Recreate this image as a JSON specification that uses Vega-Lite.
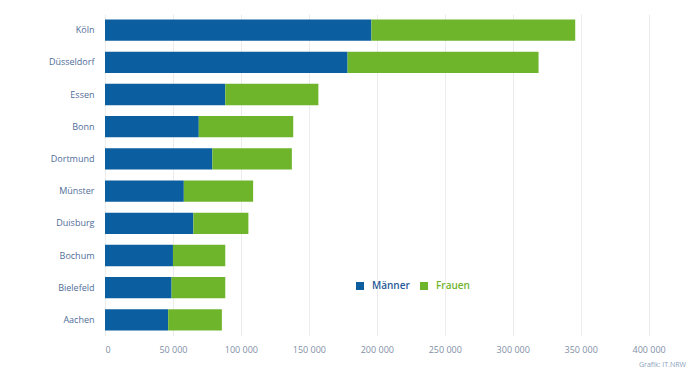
{
  "$schema": "https://vega.github.io/schema/vega-lite/v6.json",
  "autosize": "none",
  "padding": {"left": 105, "top": 14, "right": 0, "bottom": 36},
  "width": 581,
  "height": 322,
  "background": "white",
  "title": {
    "text": "Grafik: IT.NRW",
    "orient": "bottom",
    "anchor": "end",
    "fontSize": 7,
    "font": "Open Sans",
    "fontWeight": "normal",
    "color": "#8aa0bc",
    "offset": 7
  },
  "data": {
    "values": [
      {"stadt": "Köln", "geschlecht": "Männer", "anzahl": 196000},
      {"stadt": "Köln", "geschlecht": "Frauen", "anzahl": 150000},
      {"stadt": "Düsseldorf", "geschlecht": "Männer", "anzahl": 178500},
      {"stadt": "Düsseldorf", "geschlecht": "Frauen", "anzahl": 140500},
      {"stadt": "Essen", "geschlecht": "Männer", "anzahl": 88500},
      {"stadt": "Essen", "geschlecht": "Frauen", "anzahl": 68500},
      {"stadt": "Bonn", "geschlecht": "Männer", "anzahl": 69000},
      {"stadt": "Bonn", "geschlecht": "Frauen", "anzahl": 69500},
      {"stadt": "Dortmund", "geschlecht": "Männer", "anzahl": 79000},
      {"stadt": "Dortmund", "geschlecht": "Frauen", "anzahl": 58500},
      {"stadt": "Münster", "geschlecht": "Männer", "anzahl": 58000},
      {"stadt": "Münster", "geschlecht": "Frauen", "anzahl": 51000},
      {"stadt": "Duisburg", "geschlecht": "Männer", "anzahl": 65000},
      {"stadt": "Duisburg", "geschlecht": "Frauen", "anzahl": 40500},
      {"stadt": "Bochum", "geschlecht": "Männer", "anzahl": 50000},
      {"stadt": "Bochum", "geschlecht": "Frauen", "anzahl": 38500},
      {"stadt": "Bielefeld", "geschlecht": "Männer", "anzahl": 49000},
      {"stadt": "Bielefeld", "geschlecht": "Frauen", "anzahl": 39500},
      {"stadt": "Aachen", "geschlecht": "Männer", "anzahl": 46500},
      {"stadt": "Aachen", "geschlecht": "Frauen", "anzahl": 39500}
    ]
  },
  "mark": {"type": "bar"},
  "encoding": {
    "y": {
      "field": "stadt",
      "type": "nominal",
      "sort": null,
      "scale": {"paddingInner": 0.34, "paddingOuter": 0.17},
      "axis": {
        "title": null,
        "domain": false,
        "ticks": false,
        "labelPadding": 11,
        "labelFont": "Open Sans",
        "labelFontSize": 9,
        "labelColor": "#4f6d99"
      }
    },
    "x": {
      "field": "anzahl",
      "type": "quantitative",
      "stack": "zero",
      "scale": {"domain": [0, 427500], "nice": false},
      "axis": {
        "title": null,
        "values": [0, 50000, 100000, 150000, 200000, 250000, 300000, 350000, 400000],
        "labelExpr": "replace(format(datum.value, ','), ',', ' ')",
        "domain": false,
        "ticks": false,
        "grid": true,
        "gridColor": "#ececec",
        "labelPadding": 9,
        "labelFont": "Open Sans",
        "labelFontSize": 9,
        "labelColor": "#7f8fa6"
      }
    },
    "color": {
      "field": "geschlecht",
      "type": "nominal",
      "scale": {"domain": ["Männer", "Frauen"], "range": ["#0b5e9f", "#6fb52c"]},
      "legend": {
        "title": null,
        "orient": "none",
        "legendX": 250,
        "legendY": 267,
        "direction": "horizontal",
        "symbolType": "square",
        "symbolSize": 64,
        "symbolStrokeWidth": 0,
        "columnPadding": 9,
        "labelOffset": 7,
        "labelFont": "Open Sans",
        "labelFontSize": 10,
        "labelFontWeight": 600,
        "labelColor": {"expr": "datum.label == 'Männer' ? '#1f5a98' : '#6fb52c'"}
      }
    },
    "order": {"field": "geschlecht", "sort": "descending"}
  },
  "config": {
    "view": {"stroke": null}
  }
}
